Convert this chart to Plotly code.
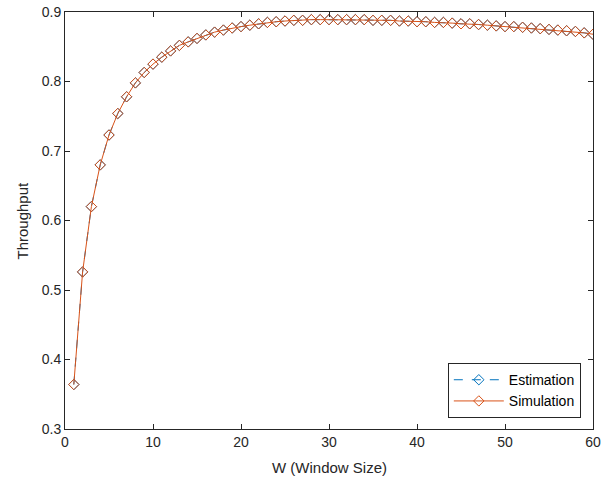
import plotly.graph_objects as go

W = list(range(1, 61))
estimation = [0.364, 0.526, 0.620, 0.680, 0.723, 0.754, 0.778, 0.798, 0.813, 0.825,
              0.835, 0.844, 0.852, 0.857, 0.862, 0.867, 0.871, 0.874, 0.877, 0.879,
              0.881, 0.883, 0.885, 0.886, 0.887, 0.888, 0.888, 0.889, 0.889, 0.889,
              0.889, 0.889, 0.889, 0.889, 0.888, 0.888, 0.888, 0.887, 0.887, 0.886,
              0.886, 0.885, 0.885, 0.884, 0.883, 0.883, 0.882, 0.881, 0.880, 0.879,
              0.879, 0.878, 0.877, 0.876, 0.875, 0.874, 0.873, 0.872, 0.870, 0.868]
simulation = [0.364, 0.526, 0.620, 0.680, 0.723, 0.754, 0.778, 0.798, 0.813, 0.825,
              0.835, 0.844, 0.852, 0.857, 0.862, 0.867, 0.871, 0.874, 0.877, 0.879,
              0.881, 0.883, 0.885, 0.886, 0.887, 0.888, 0.888, 0.889, 0.889, 0.889,
              0.889, 0.889, 0.889, 0.889, 0.888, 0.888, 0.888, 0.887, 0.887, 0.886,
              0.886, 0.885, 0.885, 0.884, 0.883, 0.883, 0.882, 0.881, 0.880, 0.879,
              0.879, 0.878, 0.877, 0.876, 0.875, 0.874, 0.873, 0.872, 0.870, 0.868]

x_ticks = [0, 10, 20, 30, 40, 50, 60]
y_ticks = [0.3, 0.4, 0.5, 0.6, 0.7, 0.8, 0.9]

BLUE = "#0072BD"
ORANGE = "#D95319"
AX = "#262626"
FONT = "Liberation Sans, Arial, sans-serif"

fig = go.Figure()
fig.add_trace(go.Scatter(
    x=W, y=estimation, name="Estimation", mode="lines+markers",
    line=dict(color=BLUE, width=1, dash="dash"),
    marker=dict(symbol="diamond-open", size=8, color=BLUE, line=dict(width=1)),
))
fig.add_trace(go.Scatter(
    x=W, y=simulation, name="Simulation", mode="lines+markers",
    line=dict(color=ORANGE, width=1),
    marker=dict(symbol="diamond-open", size=8, color=ORANGE, line=dict(width=1)),
))

axis_common = dict(
    showline=True, linecolor=AX, linewidth=1, mirror="ticks",
    ticks="inside", ticklen=5, tickcolor=AX, showgrid=False, zeroline=False,
    automargin=False,
    tickfont=dict(family=FONT, size=14, color=AX),
)

fig.update_layout(
    width=616, height=479,
    paper_bgcolor="white", plot_bgcolor="white",
    margin=dict(l=65, r=23, t=12, b=50, pad=0),
    font=dict(family=FONT, size=14, color=AX),
    xaxis=dict(range=[0, 60], tickvals=x_ticks, **axis_common),
    yaxis=dict(range=[0.3, 0.9], tickvals=y_ticks, tickformat=".1f", **axis_common),
    legend=dict(x=0.851, y=0.092, xanchor="center", yanchor="middle",
                bordercolor=AX, borderwidth=1, bgcolor="white",
                font=dict(family=FONT, size=14, color="black"), tracegroupgap=0,
                itemwidth=50),
    showlegend=True,
    annotations=[
        dict(text="W (Window Size)", xref="paper", yref="paper", x=0.5, y=0,
             xanchor="center", yanchor="middle", yshift=-38, showarrow=False,
             font=dict(family=FONT, size=15, color=AX)),
        dict(text="Throughput", xref="paper", yref="paper", x=0, y=0.5,
             xanchor="center", yanchor="middle", xshift=-43, textangle=-90,
             showarrow=False, font=dict(family=FONT, size=15, color=AX)),
    ],
)

fig.write_html("out.html", config={"displayModeBar": False},
               post_script="document.body.style.margin='0';document.body.style.padding='0';")
